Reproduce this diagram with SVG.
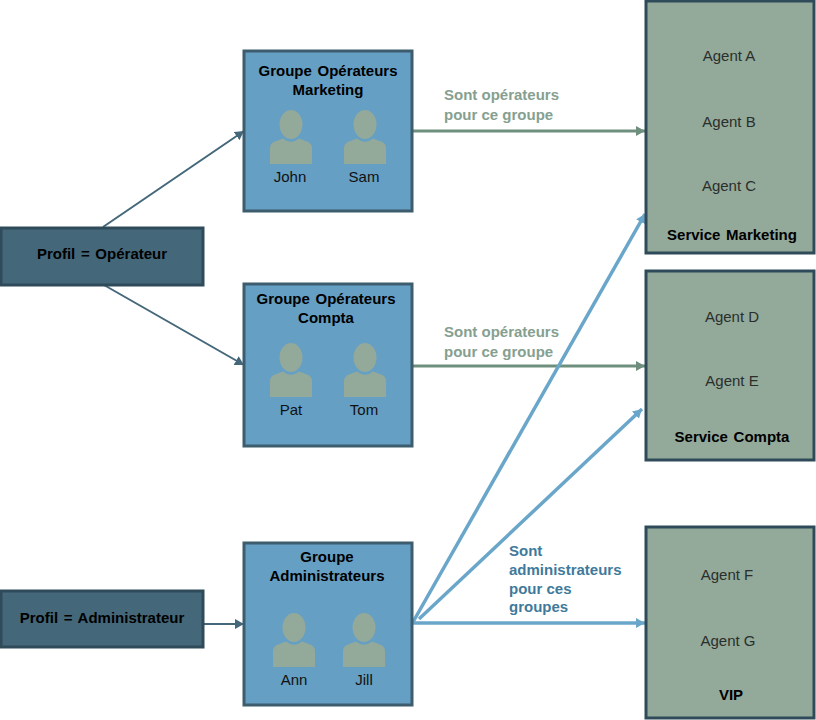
<svg xmlns="http://www.w3.org/2000/svg" width="816" height="720" viewBox="0 0 816 720">
<style>
text{font-family:"Liberation Sans",Arial,sans-serif;font-size:15px;fill:#111;text-anchor:middle}
.b{font-weight:bold;word-spacing:1.500px;fill:#000}
.a{fill:#2A2F2C}
.grp{fill:#659FC4;stroke:#3D5C6E;stroke-width:3}
.prof{fill:#44677A;stroke:#2F4A59;stroke-width:3}
.svc{fill:#93A99A;stroke:#2F4A59;stroke-width:3}
.p{fill:#93A99A}
.lg{font-weight:bold;fill:#85A090;text-anchor:start}
.lb{font-weight:bold;fill:#3F7A9B;text-anchor:start}
.c1{stroke:#44677A;stroke-width:2;fill:none;marker-end:url(#m1)}
.c2{stroke:#6F8F7E;stroke-width:3;fill:none;marker-end:url(#m2)}
.c3{stroke:#6AA6CA;stroke-width:3.500;fill:none;marker-end:url(#m3)}
</style>
<defs>
<marker id="m1" markerUnits="userSpaceOnUse" markerWidth="10" markerHeight="10" refX="9" refY="5" orient="auto"><path d="M0 0L9 5L0 10Z" fill="#44677A"/></marker>
<marker id="m2" markerUnits="userSpaceOnUse" markerWidth="10" markerHeight="10" refX="9" refY="5" orient="auto"><path d="M0 0L9 5L0 10Z" fill="#6F8F7E"/></marker>
<marker id="m3" markerUnits="userSpaceOnUse" markerWidth="10" markerHeight="10" refX="9" refY="5" orient="auto"><path d="M0 0L9 5L0 10Z" fill="#6AA6CA"/></marker>
<g id="person"><ellipse cx="21" cy="14.500" rx="11.500" ry="14.500"/><path d="M0 54V38Q0 33 5 31.500L13 28.500Q21 35 29 28.500L37 31.500Q42 33 42 38V54Z"/></g>
</defs>
<g id="connectors">
<path class="c1" d="M103 227L244 131"/>
<path class="c1" d="M104 285L244 365"/>
<path class="c1" d="M204 624H244"/>
<path class="c2" d="M413 131H645"/>
<path class="c2" d="M413 366H645"/>
<path class="c3" d="M413 622L645 214"/>
<path class="c3" d="M419 619L642 409"/>
<path class="c3" d="M413 623H645"/>
</g>
<g id="profil-operateur"><rect class="prof" x="1" y="228" width="202" height="57"/><text class="b" x="102" y="259">Profil = Opérateur</text></g>
<g id="profil-administrateur"><rect class="prof" x="1" y="591" width="202" height="56"/><text class="b" x="102" y="623">Profil = Administrateur</text></g>
<g id="groupe-marketing"><rect class="grp" x="244" y="51" width="168" height="160"/><text class="b" x="328" y="76">Groupe Opérateurs</text><text class="b" x="328" y="95">Marketing</text>
<use href="#person" class="p" x="270" y="110"/><use href="#person" class="p" x="344" y="110"/><text x="290" y="182">John</text><text x="364" y="182">Sam</text></g>
<g id="groupe-compta"><rect class="grp" x="244" y="284" width="168" height="162"/><text class="b" x="326" y="304">Groupe Opérateurs</text><text class="b" x="326" y="323">Compta</text>
<use href="#person" class="p" x="270" y="343"/><use href="#person" class="p" x="344" y="343"/><text x="291" y="415">Pat</text><text x="364" y="415">Tom</text></g>
<g id="groupe-admin"><rect class="grp" x="244" y="543" width="168" height="162"/><text class="b" x="327" y="562">Groupe</text><text class="b" x="327" y="581">Administrateurs</text>
<use href="#person" class="p" x="273" y="613"/><use href="#person" class="p" x="343" y="613"/><text x="294" y="685">Ann</text><text x="364" y="685">Jill</text></g>
<g id="service-marketing"><rect class="svc" x="646" y="1" width="168" height="252"/><text class="a" x="729" y="61">Agent A</text><text class="a" x="729" y="127">Agent B</text><text class="a" x="729" y="191">Agent C</text><text class="b" x="732" y="240">Service Marketing</text></g>
<g id="service-compta"><rect class="svc" x="646" y="271" width="168" height="189"/><text class="a" x="732" y="322">Agent D</text><text class="a" x="732" y="386">Agent E</text><text class="b" x="732" y="442">Service Compta</text></g>
<g id="vip"><rect class="svc" x="646" y="527" width="168" height="191"/><text class="a" x="727" y="580">Agent F</text><text class="a" x="728" y="646">Agent G</text><text class="b" x="731" y="700">VIP</text></g>
<g id="labels">
<text class="lg" x="444" y="100">Sont opérateurs</text><text class="lg" x="444" y="120">pour ce groupe</text>
<text class="lg" x="444" y="337">Sont opérateurs</text><text class="lg" x="444" y="357">pour ce groupe</text>
<text class="lb" x="509" y="556">Sont</text><text class="lb" x="509" y="575">administrateurs</text><text class="lb" x="509" y="594">pour ces</text><text class="lb" x="509" y="612">groupes</text>
</g>
</svg>
